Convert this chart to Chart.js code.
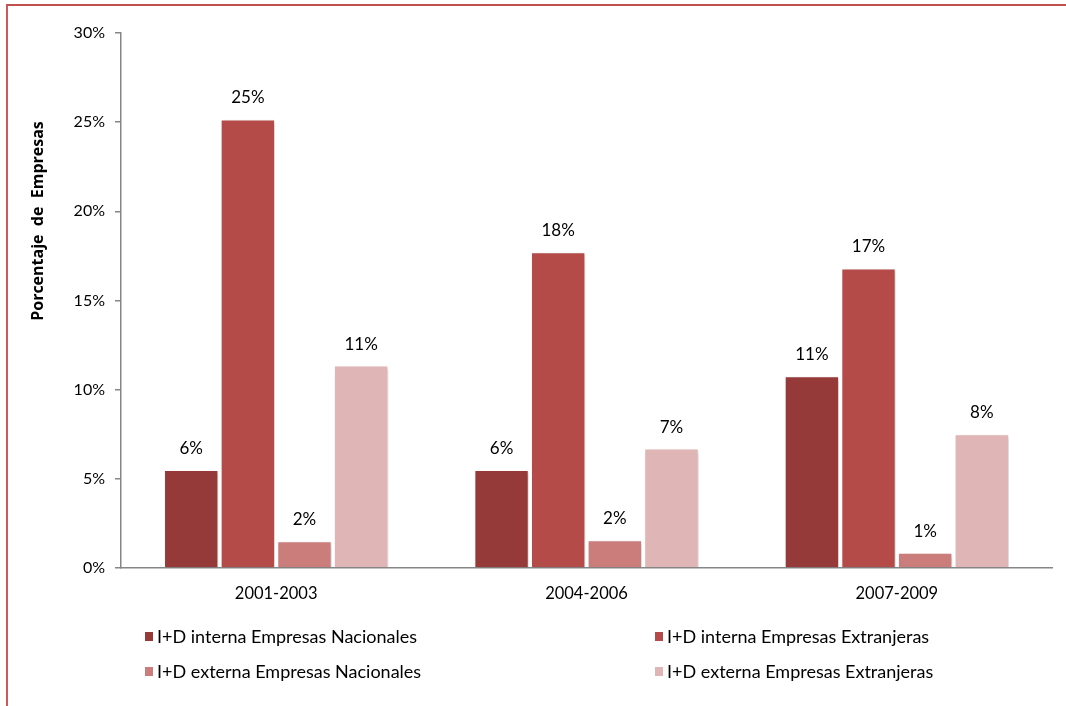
<!DOCTYPE html>
<html>
<head>
<meta charset="utf-8">
<script src="https://cdn.jsdelivr.net/npm/chart.js@4"></script>
<style>
  html, body { margin: 0; padding: 0; background: #fff; overflow: hidden; }
  #wrap { position: relative; width: 1066px; height: 706px; }
  #frame {
    position: absolute; left: 6px; top: 4px; width: 1100px; height: 800px;
    border-left: 2px solid #cd5a58; border-top: 2px solid #c0504d;
    pointer-events: none;
  }
</style>
</head>
<body>
<div id="wrap">
  <canvas id="idChart" width="1066" height="706"></canvas>
  <div id="frame"></div>
</div>
<script>
const periodos = ['2001-2003', '2004-2006', '2007-2009'];
const internaNacionales = [5.5, 5.5, 10.75];
const internaExtranjeras = [25.15, 17.7, 16.8];
const externaNacionales = [1.5, 1.55, 0.85];
const externaExtranjeras = [11.35, 6.7, 7.5];
const yTicks = [0, 5, 10, 15, 20, 25, 30];

const FONT = 'Lato, "Open Sans", sans-serif';

// value above each bar
const barLabels = {
  id: 'barLabels',
  afterDatasetsDraw(chart) {
    const ctx = chart.ctx;
    ctx.save();
    ctx.font = '17px ' + FONT;
    ctx.fillStyle = '#000';
    ctx.textAlign = 'center';
    ctx.textBaseline = 'bottom';
    chart.data.datasets.forEach((ds, i) => {
      chart.getDatasetMeta(i).data.forEach((bar, j) => {
        ctx.fillText(Math.round(ds.data[j]) + '%', bar.x, bar.y - 13);
      });
    });
    ctx.restore();
  }
};

// soft shadow behind the bars
const barShadow = {
  id: 'barShadow',
  beforeDatasetsDraw(chart) {
    const ctx = chart.ctx;
    ctx.save();
    ctx.shadowColor = 'rgba(0,0,0,0.18)';
    ctx.shadowBlur = 4;
    ctx.shadowOffsetX = 2;
    ctx.shadowOffsetY = 2;
  },
  afterDatasetsDraw(chart) {
    chart.ctx.restore();
  }
};

// rotated axis title, two-column legend
const extras = {
  id: 'extras',
  afterDraw(chart) {
    const ctx = chart.ctx;
    const area = chart.chartArea;
    ctx.save();
    ctx.translate(38, area.top + 188);
    ctx.rotate(-Math.PI / 2);
    ctx.font = 'bold 16px "Open Sans", sans-serif';
    ctx.fillStyle = '#000';
    ctx.textAlign = 'center';
    ctx.textBaseline = 'middle';
    ctx.fillText('Porcentaje  de  Empresas', 0, 0);
    ctx.restore();

    ctx.save();
    ctx.font = '18px ' + FONT;
    ctx.textBaseline = 'middle';
    const cols = [area.left + 24, area.left + 534];
    const rows = [area.bottom + 69, area.bottom + 104];
    chart.data.datasets.forEach((ds, i) => {
      const x = cols[i % 2];
      const y = rows[Math.floor(i / 2)];
      ctx.fillStyle = ds.backgroundColor;
      ctx.fillRect(x, y - 5, 8, 9);
      ctx.fillStyle = '#000';
      ctx.fillText(ds.label, x + 12, y);
    });
    ctx.restore();
  }
};

new Chart(document.getElementById('idChart'), {
  type: 'bar',
  data: {
    labels: periodos,
    datasets: [
      { label: 'I+D interna Empresas Nacionales', data: internaNacionales, backgroundColor: '#963a39' },
      { label: 'I+D interna Empresas Extranjeras', data: internaExtranjeras, backgroundColor: '#b44b49' },
      { label: 'I+D externa Empresas Nacionales', data: externaNacionales, backgroundColor: '#cb7d7c' },
      { label: 'I+D externa Empresas Extranjeras', data: externaExtranjeras, backgroundColor: '#dfb5b5' }
    ]
  },
  options: {
    responsive: false,
    animation: false,
    categoryPercentage: 0.73,
    barPercentage: 0.96,
    borderColor: '#ffffff',
    borderWidth: 1,
    layout: { padding: { left: 8, right: 14, top: 33, bottom: 98 } },
    plugins: {
      legend: { display: false },
      tooltip: { enabled: false }
    },
    scales: {
      x: {
        afterFit(scale) { scale.height = 40; },
        grid: { display: false },
        border: { color: '#868686', width: 1.5 },
        ticks: { color: '#000', font: { family: FONT, size: 16.5 }, padding: 8 }
      },
      y: {
        min: 0,
        max: 30,
        afterFit(scale) { scale.width = 113; },
        afterBuildTicks(scale) { scale.ticks = yTicks.map(v => ({ value: v })); },
        grid: { drawOnChartArea: false, drawTicks: true, tickLength: 6, color: '#868686', lineWidth: 1.5 },
        border: { color: '#868686', width: 1.5 },
        ticks: {
          color: '#000',
          font: { family: FONT, size: 16 },
          padding: 10,
          callback: v => v + '%'
        }
      }
    }
  },
  plugins: [barShadow, barLabels, extras]
});
</script>
</body>
</html>
